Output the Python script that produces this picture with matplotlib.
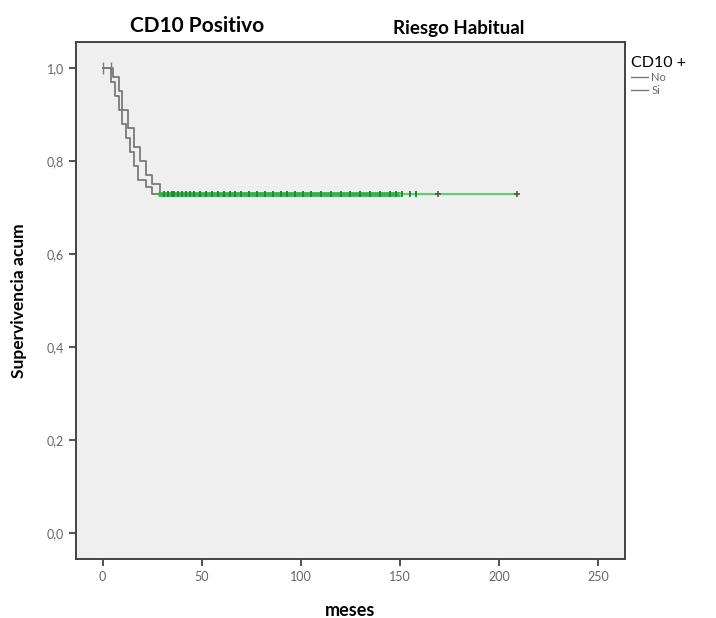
import numpy as np
import matplotlib.pyplot as plt
from matplotlib.lines import Line2D
from matplotlib.ticker import FuncFormatter

# Curvas de Kaplan-Meier (meses, supervivencia acumulada)
t_no = [0, 4, 6, 8, 10, 12, 14, 16, 18, 22, 25]
s_no = [1.0, 0.97, 0.94, 0.91, 0.88, 0.85, 0.82, 0.79, 0.76, 0.745, 0.73]
t_si = [0, 5, 8, 10, 13, 16, 19, 22, 25, 29]
s_si = [1.0, 0.98, 0.95, 0.91, 0.87, 0.83, 0.80, 0.77, 0.75, 0.73]
meseta = 0.73
fin_seguimiento = 209

# Casos censurados
censurados = [31, 33, 35, 36, 38, 40, 42, 44, 46, 49, 52, 55, 58, 61, 64, 67, 70,
              74, 78, 82, 86, 90, 93, 97, 101, 105, 110, 115, 120, 125, 130, 135,
              140, 145, 148, 151, 155, 158]
censurados_tardios = [169, 209]

x_ticks = [0, 50, 100, 150, 200, 250]
y_ticks = [0.0, 0.2, 0.4, 0.6, 0.8, 1.0]

plt.rcParams['font.family'] = ['Lato', 'DejaVu Sans']

fig = plt.figure(figsize=(7.16, 6.18), dpi=100)
ax = fig.add_axes([0.106, 0.0955, 0.767, 0.8365])
ax.set_facecolor('#efefef')

gris = '#7a7a7a'
ax.step(t_no + [t_no[-1] + 15], s_no + [meseta], where='post', color=gris, lw=1.3)
ax.step(t_si + [t_si[-1] + 10], s_si + [meseta], where='post', color=gris, lw=1.3)
ax.plot(t_no[:2], [1.0, 1.0], marker='|', color=gris, ms=8, lw=1.3)

verde = '#2fb34a'
ax.plot([28, 150], [meseta, meseta], color=verde, lw=3.4, solid_capstyle='butt')
ax.plot([150, fin_seguimiento], [meseta, meseta], color='#5ccf6e', lw=1.5)
ax.plot(censurados, [meseta] * len(censurados), ls='none', marker='|',
        color='#1f8a35', ms=4, mew=1.4)
ax.plot(censurados_tardios, [meseta] * len(censurados_tardios), ls='none',
        marker='+', color='#555555', ms=4, mew=1.2)

ax.set_xlim(-13.5, 263.5)
ax.set_ylim(-0.056, 1.056)
ax.set_xticks(x_ticks)
ax.set_yticks(y_ticks)
ax.yaxis.set_major_formatter(FuncFormatter(lambda v, p: f'{v:.1f}'.replace('.', ',')))
ax.tick_params(direction='out', length=5, width=1.2, color='#333333',
               labelsize=9, labelcolor='#666666')
for sp in ax.spines.values():
    sp.set_color('#444444')
    sp.set_linewidth(1.4)

ax.set_xlabel('meses', fontsize=13, fontweight='bold', labelpad=14)
ax.set_ylabel('Supervivencia acum', fontsize=12.5, fontweight='bold', labelpad=14)

fig.text(0.275, 0.948, 'CD10 Positivo', fontsize=15, fontweight='bold', ha='center')
fig.text(0.64, 0.945, 'Riesgo Habitual', fontsize=13.5, fontweight='bold', ha='center')

handles = [Line2D([], [], color=gris, lw=1), Line2D([], [], color=gris, lw=1)]
leg = fig.legend(handles, ['No', 'Si'], title='CD10 +', loc='upper left',
                 bbox_to_anchor=(0.868, 0.925), frameon=False, fontsize=8,
                 title_fontsize=11.5, handlelength=1.5, handletextpad=0.3,
                 labelspacing=0.15)
leg._legend_box.align = 'left'
for txt in leg.get_texts():
    txt.set_color('#666666')

fig.savefig('out.png', dpi=100, facecolor='white')
